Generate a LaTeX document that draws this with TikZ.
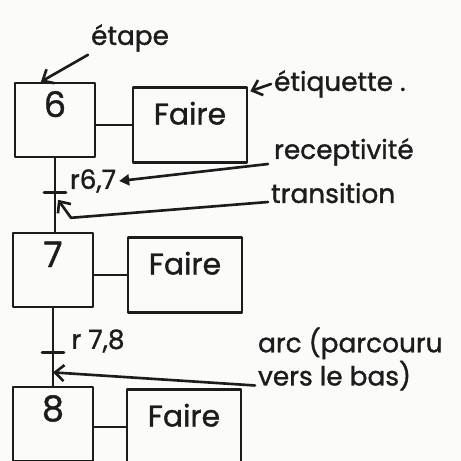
\documentclass[tikz,border=0pt]{standalone}
\usepackage{fontspec}
\setmainfont{Poppins}[FakeBold=1.2]
\usetikzlibrary{arrows.meta,calc,positioning}
\definecolor{gink}{HTML}{1C1C1C}
\definecolor{gpaper}{HTML}{FBFBF9}

\begin{document}
\begin{tikzpicture}[x=0.02cm,y=-0.02cm,>={Straight Barb[length=1.8mm,width=3.2mm]},
  line cap=round,line join=round,line width=1.5pt,color=gink,
  etape/.style={draw,rectangle,inner sep=0pt,minimum width=1.6cm,
    text height=0.68cm,text depth=0.80cm,font=\fontsize{20}{20}\selectfont},
  action/.style={draw,rectangle,inner sep=0pt,minimum width=2.28cm,
    text height=0.74cm,text depth=0.76cm,font=\fontsize{17}{18}\selectfont},
  recep/.style={inner sep=1pt,font=\fontsize{15}{16}\selectfont},
  note/.style={inner sep=1pt,anchor=west,align=left,font=\fontsize{15}{15}\selectfont}]
\path[use as bounding box] (0,0) rectangle (461,461);
\fill[gpaper] (0,0) rectangle (461,461);
\clip (0,0) rectangle (461,461);
% étapes et actions associées
\node[etape] (s6) at (55,120) {6};
\node[action] (a6) at (190,125) {Faire};
\node[etape] (s7) at (53,270) {7};
\node[action] (a7) at (185,275) {Faire};
\node[etape] (s8) at (53,424) {8};
\node[action] (a8) at (184,427) {Faire};
\draw (s6.east |- a6.west) -- (a6.west);
\draw (s7.east |- a7.west) -- (a7.west);
\draw (s8.east |- a8.west) -- (a8.west);
% liaisons et transitions
\draw (s6.south) -- (s6.south |- s7.north);
\draw (s7.south) -- (s7.south |- s8.north);
\coordinate (t67) at ($(s6.south)!.47!(s6.south |- s7.north)$);
\coordinate (t78) at ($(s7.south)!.57!(s7.south |- s8.north)$);
\draw ($(t67)+(-11,0)$) -- ($(t67)+(11,0)$);
\draw ($(t78)+(-11,0)$) -- ($(t78)+(11,0)$);
\node[recep] (r67) at (93,181) {r6,7};
\node[recep] (r78) at (98,341) {r 7,8};
% annotations
\node[note] (netape) at (88,38) {étape};
\node[note] (netiq) at (271,84) {étiquette~.};
\node[note] (nrecep) at (271,152) {receptivité};
\node[note] (ntrans) at (268,193) {transition};
\node[note] (narc) at (255,359) {arc (parcouru\\vers le bas)};
\draw[->] (netape.south west) -- ($(s6.north west)!.33!(s6.north east)$);
\draw[->] (netiq.west) -- ([shift={(2,5)}]a6.north east);
\draw[-{Triangle[length=2mm,width=2.2mm]}] ($(nrecep.west)+(-3,12)$) -- (r67.east);
\draw[->] ($(ntrans.west)+(0,9)$) -- ($(t67)+(16,25)$) -- ($(t67)+(3,7)$);
\draw[->] (narc.base west) -- ($(t78)!.6!(s7.south |- s8.north)$);
\end{tikzpicture}
\end{document}
